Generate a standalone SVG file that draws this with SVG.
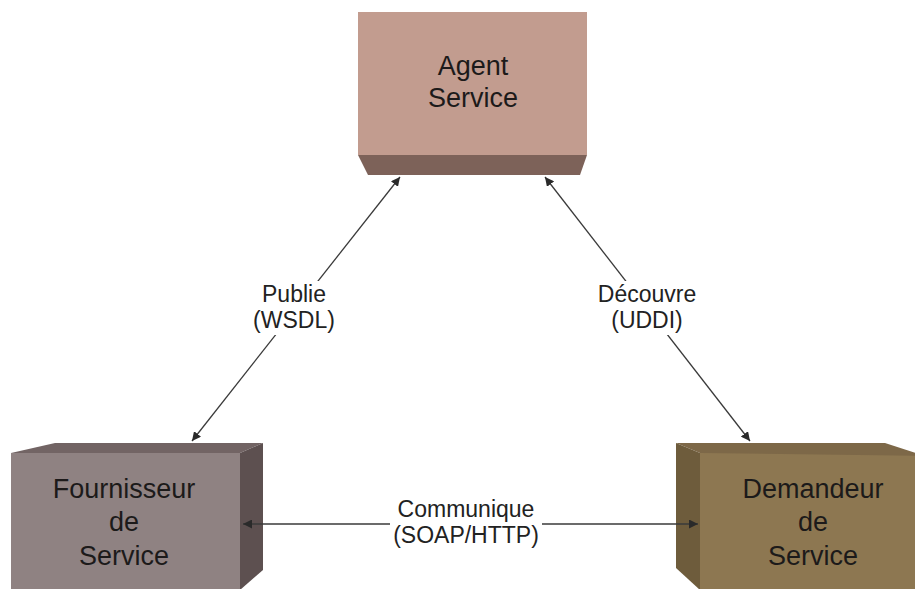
<svg xmlns="http://www.w3.org/2000/svg" width="915" height="589" viewBox="0 0 915 589">
<style>
.node{font-family:"Liberation Sans",Arial,sans-serif;font-size:27px;fill:#1c1a1a;text-anchor:middle}
.lbl{font-family:"Liberation Sans",Arial,sans-serif;font-size:23px;fill:#222;text-anchor:middle}
.conn{stroke:#3a3a3a;stroke-width:1.3;fill:none;marker-start:url(#ah);marker-end:url(#ah)}
.bg{fill:#ffffff}
</style>
<defs>
<marker id="ah" viewBox="0 0 10 10" refX="10" refY="5" markerWidth="9" markerHeight="9" markerUnits="userSpaceOnUse" orient="auto-start-reverse">
<path d="M0,0 L10,5 L0,10 z" fill="#2a2a2a"/>
</marker>
</defs>
<rect width="915" height="589" fill="#ffffff"/>

<g id="agent">
<rect x="358" y="12" width="229" height="143" fill="#c29c8f"/>
<polygon points="358,155 587,155 580,175 368,175" fill="#7d6259"/>
<text class="node" x="473" y="75">Agent</text>
<text class="node" x="473" y="107">Service</text>
</g>

<g id="fournisseur">
<rect x="11" y="453" width="229" height="136" fill="#8f8282"/>
<polygon points="11,453 55,443 263,443 240,453" fill="#726464"/>
<polygon points="240,453 263,443 263,570 240,590" fill="#5d5050"/>
<text class="node" x="124" y="498">Fournisseur</text>
<text class="node" x="124" y="531">de</text>
<text class="node" x="124" y="565">Service</text>
</g>

<g id="demandeur">
<rect x="700" y="453" width="215" height="136" fill="#8d7751"/>
<polygon points="676,443 885,443 925,456 700,453" fill="#7d6848"/>
<polygon points="676,443 700,453 700,590 676,568" fill="#6e5c3c"/>
<text class="node" x="813" y="498">Demandeur</text>
<text class="node" x="813" y="531">de</text>
<text class="node" x="813" y="565">Service</text>
</g>

<g id="connectors">
<line class="conn" x1="192" y1="441" x2="400" y2="177"/>
<line class="conn" x1="750" y1="441" x2="545" y2="177"/>
<line class="conn" x1="243" y1="524" x2="698" y2="524"/>
</g>

<g id="labels">
<rect class="bg" x="256" y="281" width="76" height="54"/>
<text class="lbl" x="294" y="302">Publie</text>
<text class="lbl" x="294" y="328">(WSDL)</text>
<rect class="bg" x="594" y="281" width="106" height="54"/>
<text class="lbl" x="647" y="302">Découvre</text>
<text class="lbl" x="647" y="328">(UDDI)</text>
<rect class="bg" x="390" y="497" width="152" height="52"/>
<text class="lbl" x="466" y="517">Communique</text>
<text class="lbl" x="466" y="543">(SOAP/HTTP)</text>
</g>
</svg>
